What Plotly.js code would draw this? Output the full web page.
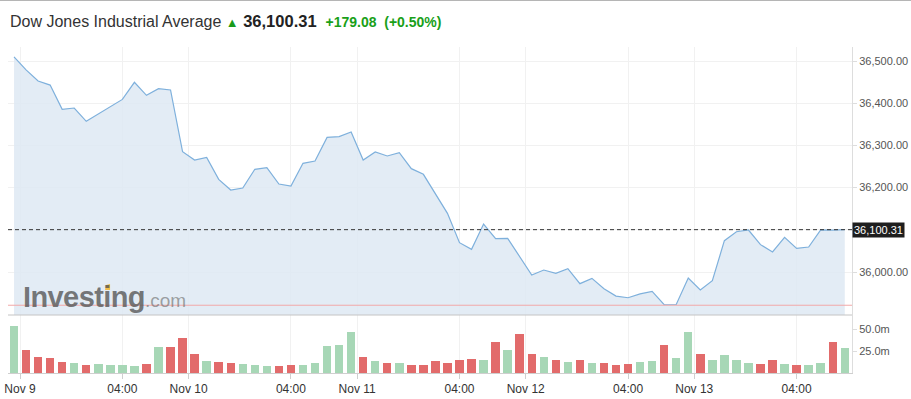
<!DOCTYPE html>
<html>
<head>
<meta charset="utf-8">
<script src="https://cdn.plot.ly/plotly-3.0.1.min.js"></script>
<style>html,body{margin:0;padding:0;background:#fff;}#chart{width:911px;height:399px;}</style>
</head>
<body>
<div id="chart"></div>
<script>
// ---- data ----
const prices = [36510, 36479, 36452.6, 36443, 36385.5, 36388.6, 36357, 36374.4, 36391.8, 36409,
  36449.5, 36418.7, 36434.5, 36431.3, 36285, 36265.4, 36271.7, 36219.6, 36194.3, 36199,
  36243.4, 36247.2, 36208.5, 36203.8, 36257.6, 36263, 36319, 36320.7, 36331.8, 36265.4,
  36284.4, 36275, 36282.8, 36244.9, 36231.5, 36185.7, 36139, 36069.5, 36053.7, 36113.7,
  36079, 36079.8, 36035.5, 35992.9, 36004.7, 35996.8, 36007.9, 35972.4, 35985, 35960.5,
  35943, 35939, 35948, 35954, 35922.4, 35923, 35985.8, 35957.3, 35979.5, 36074.2,
  36095.5, 36099.5, 36064.8, 36047.4, 36082.2, 36056, 36059.2, 36099.6, 36099.2, 36100.31];
const volumesM = [54.2, 26.5, 18.5, 17.3, 12.7, 11.5, 9.2, 10.4, 9.2, 9.2,
  8.1, 10.4, 30.0, 30.0, 40.4, 21.9, 13.8, 12.7, 11.5, 10.4,
  9.2, 8.1, 8.1, 9.2, 9.2, 11.5, 31.2, 32.3, 47.3, 18.5,
  13.8, 11.5, 11.5, 9.2, 9.2, 13.8, 11.5, 15.0, 16.2, 15.0,
  35.8, 26.5, 45.0, 21.9, 18.5, 15.0, 12.7, 15.0, 11.5, 11.5,
  9.2, 10.4, 12.7, 13.8, 32.3, 17.3, 47.3, 21.9, 15.0, 20.8,
  15.0, 11.5, 10.4, 15.0, 10.4, 9.2, 9.2, 11.5, 35.8, 28.8];
const tickPos = [0.5, 9, 14.5, 23, 28.5, 37, 42.5, 51, 56.5, 65];
const tickLabels = ['Nov 9', '04:00', 'Nov 10', '04:00', 'Nov 11', '04:00', 'Nov 12', '04:00', 'Nov 13', '04:00'];
const priceTicks = [36000, 36200, 36300, 36400, 36500];
const volTicks = [25, 50];
const lastPrice = 36100.31;
const change = 179.08;
const changePct = 0.50;
const prevClose = 35921.23;
const instrument = 'Dow Jones Industrial Average';

// ---- derived ----
const idx = prices.map((_, i) => i);
const barColors = prices.map((p, i) => (i === 0 || p >= prices[i - 1]) ? '#a7d7b6' : '#e26b6b');
const fmt = v => v.toLocaleString('en-US', {minimumFractionDigits: 2, maximumFractionDigits: 2});

const traces = [
  {x: idx, y: prices, type: 'scatter', mode: 'lines', fill: 'tozeroy',
   fillcolor: 'rgba(222,233,243,0.85)', line: {color: '#7eb0dc', width: 1.2},
   xaxis: 'x', yaxis: 'y', hoverinfo: 'skip'},
  {x: idx, y: volumesM, type: 'bar', marker: {color: barColors}, width: 0.7,
   xaxis: 'x', yaxis: 'y2', hoverinfo: 'skip'}
];

const H = 326; // plot height px
const volDom = 58 / H;
const layout = {
  width: 911, height: 399,
  margin: {l: 8, r: 59, t: 47, b: 26},
  paper_bgcolor: '#fff', plot_bgcolor: '#fff',
  showlegend: false,
  font: {family: 'Liberation Sans, Arial, sans-serif', color: '#333', size: 12},
  bargap: 0,
  xaxis: {
    anchor: 'y2', range: [-0.5, 69.6], tickvals: tickPos, ticktext: tickLabels,
    showgrid: true, gridcolor: '#f1f1f1', zeroline: false,
    showline: true, linecolor: '#cfcfcf', linewidth: 1,
    ticks: 'outside', ticklen: 5, tickcolor: '#cfcfcf',
    tickfont: {size: 12, color: '#333'}
  },
  yaxis: {
    domain: [volDom, 1], anchor: 'x', side: 'right',
    range: [35898.1, 36533.2], tickvals: [36000, 36100, 36200, 36300, 36400, 36500],
    ticktext: [36000, 36100, 36200, 36300, 36400, 36500].map(v => priceTicks.includes(v) ? fmt(v) : ''),
    showgrid: true, gridcolor: '#f1f1f1', zeroline: false,
    showline: true, linecolor: '#dddddd', linewidth: 1,
    ticks: 'outside', ticklen: 4, tickcolor: '#dddddd',
    tickfont: {size: 11, color: '#555'}
  },
  yaxis2: {
    domain: [0, volDom], anchor: 'x', side: 'right',
    range: [0, 66.8], tickvals: volTicks, ticktext: volTicks.map(v => v.toFixed(1) + 'm'),
    showgrid: false, zeroline: false,
    showline: true, linecolor: '#dddddd', linewidth: 1,
    ticks: 'outside', ticklen: 4, tickcolor: '#dddddd',
    tickfont: {size: 11, color: '#555'}
  },
  shapes: [
    // top page border
    {type: 'line', xref: 'paper', yref: 'paper', x0: -8 / 844, x1: 903 / 844,
     y0: 1 + 47 / H, y1: 1 + 47 / H, line: {color: '#b5b5b5', width: 2}},
    // previous close line
    {type: 'line', xref: 'paper', yref: 'y', x0: 0, x1: 1, y0: prevClose, y1: prevClose,
     line: {color: '#f2a9a9', width: 1}},
    // last price dashed line
    {type: 'line', xref: 'paper', yref: 'y', x0: 0, x1: 1, y0: lastPrice, y1: lastPrice,
     line: {color: '#333', width: 1, dash: '4px,3px'}},
    // panel separator
    {type: 'line', xref: 'paper', yref: 'paper', x0: 0, x1: 1, y0: volDom, y1: volDom,
     line: {color: '#c4c4c4', width: 1}},
    // logo accent
    {type: 'path', xref: 'paper', yref: 'paper', layer: 'above',
     path: 'M 0.1149 0.2546 L 0.1209 0.2546 L 0.1209 0.2730 L 0.1161 0.2699 Z',
     fillcolor: '#f2bd4a', line: {width: 0}}
  ],
  annotations: [
    {xref: 'paper', yref: 'paper', x: 0, y: 1 + 26 / H, xanchor: 'left', yanchor: 'middle',
     showarrow: false, align: 'left',
     text: '<span style="font-size:16px;color:#333">' + instrument + '</span> ' +
           '<span style="font-size:13px;color:#1a9b1a">▲</span> ' +
           '<span style="font-size:16.5px;color:#222"><b>' + fmt(lastPrice) + '</b></span>  ' +
           '<span style="font-size:14px;color:#19a019"><b>+' + fmt(change) + '</b>  <b>(+' + changePct.toFixed(2) + '%)</b></span>',
     font: {family: 'Liberation Sans, Arial, sans-serif', size: 16, color: '#333'}},
    {xref: 'paper', yref: 'y', x: 1, y: lastPrice, xanchor: 'left', yanchor: 'middle',
     showarrow: false, text: fmt(lastPrice), bgcolor: '#1e1e1e', borderpad: 1,
     font: {family: 'Liberation Sans, Arial, sans-serif', size: 11, color: '#fff'}},
    {xref: 'paper', yref: 'paper', x: 13 / 844, y: (373 - 297) / H, xanchor: 'left', yanchor: 'middle',
     showarrow: false,
     text: '<span style="font-size:29px;letter-spacing:-0.6px"><b>Investing</b></span><span style="font-size:19px;color:rgba(110,110,110,0.8)">.com</span>',
     font: {family: 'Liberation Sans, Arial, sans-serif', size: 29, color: 'rgba(85,85,85,0.78)'}}
  ]
};

Plotly.newPlot('chart', traces, layout, {staticPlot: true, displayModeBar: false});
</script>
</body>
</html>
